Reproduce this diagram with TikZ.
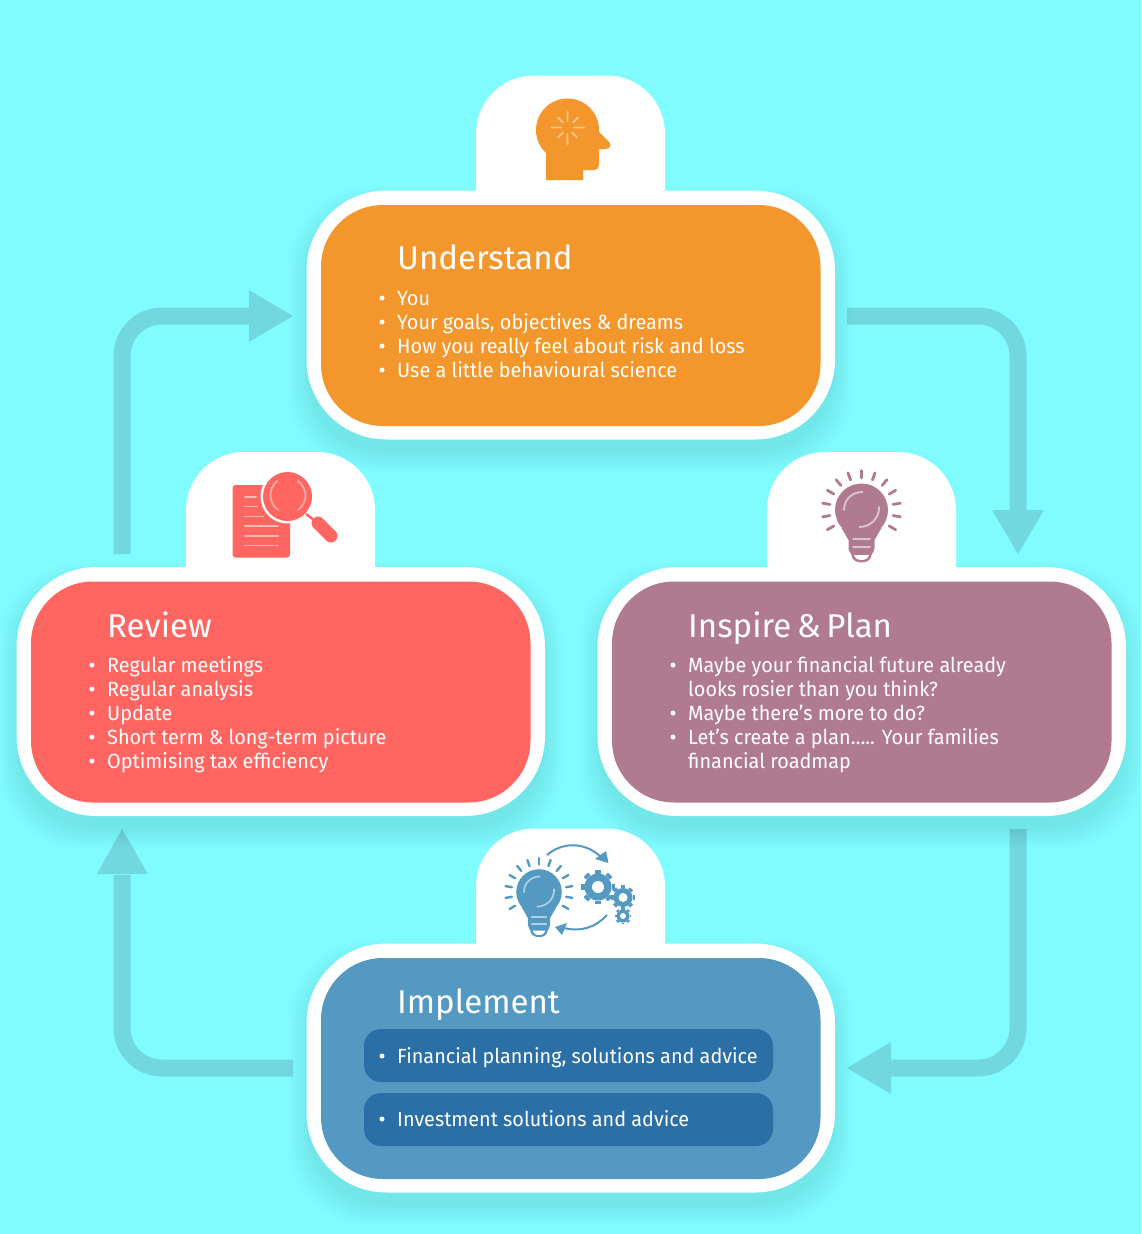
\documentclass[tikz,border=0pt]{standalone}
\usepackage{fontspec}
\setmainfont{Fira Sans}
\newfontfamily\itemfont[FakeStretch=0.967]{Fira Sans}
\newfontfamily\headfont{Fira Sans}
\usetikzlibrary{calc}
\definecolor{bgc}{HTML}{80FCFF}
\definecolor{arrowc}{HTML}{72D8E0}
\definecolor{orangec}{HTML}{F3962C}
\definecolor{redc}{HTML}{FF6561}
\definecolor{mauvec}{HTML}{B07B90}
\definecolor{bluec}{HTML}{5399C2}
\definecolor{darkbluec}{HTML}{2A6FA5}
\tikzset{
  x=1pt,y=-1pt,
  flow/.style={draw=arrowc,line width=17pt,rounded corners=40pt},
  head/.style={fill=arrowc,draw=none},
  inner/.style={rounded corners=62pt},
  heading/.style={anchor=base west,text=white,font=\headfont\fontsize{33}{33}\selectfont,inner sep=0pt},
  item/.style={anchor=base west,text=white,font=\itemfont\fontsize{20.5}{20.5}\selectfont,inner sep=0pt},
  dot/.style={circle,fill=white,draw=none,minimum size=5pt,inner sep=0pt},
}
\newcommand{\card}[4]{%
  \begin{scope}[shift={(#1,#2)}]
    \foreach \k in {18,15,12,9,6,3,0}{
      \fill[black,opacity=.011,rounded corners=80pt] (-\k,-\k+14) rectangle (528.5+\k,249+\k+14);
    }
    \fill[white,rounded corners=58pt] (169.5,-115) rectangle (358.5,60);
    \fill[white,rounded corners=80pt] (0,0) rectangle (528.5,249);
    \fill[#3,inner] (14.5,14.5) rectangle (514,235.5);
  \end{scope}}
\newcommand{\bul}[2]{\node[dot] at (#1,#2) {};}
\newcommand{\bulb}[4]{% centre x, centre y, scale, colour
  \begin{scope}[shift={(#1,#2)},scale=#3]
    \pgfmathsetmacro{\rl}{2.8*#3}
    \pgfmathsetmacro{\gl}{1.9*#3}
    \fill[#4] (0,0) circle (26.5);
    \fill[#4] (-20,18) -- (-13,30) -- (-13,38) .. controls (-13,42) and (-10,43) .. (-10,45)
       .. controls (-10,49) and (-6,52.5) .. (0,52.5) .. controls (6,52.5) and (10,49) .. (10,45)
       .. controls (10,43) and (13,42) .. (13,38) -- (13,30) -- (20,18) -- cycle;
    \fill[white] (-7.5,45) .. controls (-7,48) and (-4,50) .. (0,50) .. controls (4,50) and (7,48) .. (7.5,45) -- cycle;
    \draw[white,opacity=.55,line width=\gl pt,line cap=round] (-8.5,29) -- (8.5,29) (-8.5,37) -- (8.5,37);
    \draw[white,opacity=.55,line width=\gl pt,line cap=round] (-17.5,0) .. controls (-17.5,-10) and (-10,-18) .. (1,-18);
    \draw[white,opacity=.55,line width=\gl pt,line cap=round] (17.5,-3) .. controls (18,8) and (9,17) .. (-2,17);
    \foreach \a in {-120,-100,-80,-60,-40,-20,0,20,40,60,80,100,120}{
      \draw[#4,line width=\rl pt,line cap=round] ({sin(\a)*32},{-cos(\a)*32}) -- ({sin(\a)*39.5},{-cos(\a)*39.5});
    }
  \end{scope}}
\begin{document}
\begin{tikzpicture}
\useasboundingbox (0,0) rectangle (1141,1234);
\fill[bgc] (0,0) rectangle (1141,1234);

\coordinate (a1s) at (847,316); \coordinate (a1c) at (1018,316); \coordinate (a1e) at (1018,512);
\coordinate (a2s) at (1018,829); \coordinate (a2c) at (1018,1068); \coordinate (a2e) at (889,1068);
\coordinate (a3s) at (293,1068); \coordinate (a3c) at (122,1068); \coordinate (a3e) at (122,875);
\coordinate (a4s) at (122,554); \coordinate (a4c) at (122,316); \coordinate (a4e) at (251,316);

\draw[flow] (a1s) -- (a1c) -- (a1e);
\fill[head] (992,510) -- (1044,510) -- (1018,554) -- cycle;
\draw[flow] (a2s) -- (a2c) -- (a2e);
\fill[head] (891,1042) -- (891,1094) -- (847,1068) -- cycle;
\draw[flow] (a3s) -- (a3c) -- (a3e);
\fill[head] (97,874) -- (148,874) -- (122,829) -- cycle;
\draw[flow] (a4s) -- (a4c) -- (a4e);
\fill[head] (249,290) -- (249,342) -- (293,316) -- cycle;

\card{306.5}{190.5}{orangec}{u}
\card{16.5}{567}{redc}{r}
\card{597.5}{567}{mauvec}{p}
\card{306.5}{943.5}{bluec}{i}

\fill[darkbluec,rounded corners=17pt] (364,1029) rectangle (773,1082);
\fill[darkbluec,rounded corners=17pt] (364,1093) rectangle (773,1146);

% Understand
\node[heading] (h1) at (397,269) {Understand};
\node[item] (u1) at (397,305) {You};
\node[item] (u2) at (397,329) {Your goals, objectives \& dreams};
\node[item] (u3) at (397,353) {How you really feel about risk and loss};
\node[item] (u4) at (397,377) {Use a little behavioural science};
\bul{382}{298}\bul{382}{322}\bul{382}{346}\bul{382}{370}

% Review
\node[heading] (h2) at (107,637) {Review};
\node[item] (r1) at (107,672) {Regular meetings};
\node[item] (r2) at (107,696) {Regular analysis};
\node[item] (r3) at (107,720) {Update};
\node[item] (r4) at (107,744) {Short term \& long-term picture};
\node[item] (r5) at (107,768) {Optimising tax efficiency};
\bul{92}{665}\bul{92}{689}\bul{92}{713}\bul{92}{737}\bul{92}{761}

% Inspire
\node[heading] (h3) at (688,637) {Inspire\hspace{5.5pt}\&\hspace{5.5pt}Plan};
\node[item] (p1) at (688,672) {Maybe your financial future already};
\node[item] (p2) at (688,696) {looks rosier than you think?};
\node[item] (p3) at (688,720) {Maybe there’s more to do?};
\node[item] (p4) at (688,744) {Let’s create a plan….. Your families};
\node[item] (p5) at (688,768) {financial roadmap};
\bul{673}{665}\bul{673}{713}\bul{673}{737}

% Implement
\node[heading] (h4) at (397,1013) {Implement};
\node[item] (i1) at (397,1063) {Financial planning, solutions and advice};
\node[item] (i2) at (397,1126) {Investment solutions and advice};
\bul{382}{1056}\bul{382}{1119}

% Head icon
\begin{scope}[shift={(480,70)}]
  \fill[orangec] (87.5,60) circle (31.5);
  \fill[orangec] (66,75) -- (66,110) -- (103,110) -- (103,100) -- (113,100)
     .. controls (117,100) and (119,98) .. (119,94) -- (119,79) -- (125,79)
     .. controls (130,79) and (132,75) .. (129,72) -- (117,60) -- (100,60) -- cycle;
  \draw[white,opacity=.45,line width=1.8pt,line cap=round]
   (87.5,42) -- (87.5,51) (87.5,64) -- (87.5,74) (71.5,57.5) -- (81,57.5) (94,57.5) -- (104,57.5)
   (78,47.5) -- (83,52.5) (92,62.5) -- (97,67.5) (98,47.5) -- (93,52.5) (83,62.5) -- (78,67.5);
\end{scope}

% Review icon
\begin{scope}[shift={(190,450)}]
  \fill[redc,rounded corners=3pt] (42.5,35) rectangle (100,107.5);
  \draw[white,opacity=.55,line width=1.6pt,line cap=round]
    (55,47) -- (66,47) (55,56.5) -- (67,56.5) (55,66.5) -- (73,66.5)
    (55,76) -- (88,76) (55,86) -- (88,86) (55,95.5) -- (88,95.5);
  \fill[white] (97.5,46.5) circle (27);
  \fill[redc] (97.5,46.5) circle (24.5);
  \draw[white,opacity=.45,line width=1.8pt,line cap=round]
    (87,31) .. controls (78,39) and (78,52) .. (88,60)
    (108,31) .. controls (118,39) and (118,52) .. (108,60);
  \draw[redc,line width=2.5pt] (116,64) -- (124,70);
  \draw[redc,line width=13pt,line cap=round] (128,73) -- (141,86);
\end{scope}

% Plan icon
\bulb{861.5}{510}{1}{mauvec}

% Implement icon
\bulb{539}{892}{0.86}{bluec}
\begin{scope}[shift={(480,830)}]
  \draw[bluec,line width=2pt] (67,25) .. controls (85,10) and (108,13) .. (123,29);
  \fill[bluec] (128.5,33) -- (115,29) -- (126,21) -- cycle;
  \draw[bluec,line width=2pt] (127,85) .. controls (115,98) and (100,102) .. (84,98);
  \fill[bluec] (75,97) -- (87,93) -- (82,105) -- cycle;
  \foreach \cx/\cy/\r/\h in {118/57/13.5/6,143/67.5/9.5/4.5,143/86/6.5/3}{
    \fill[bluec] (\cx,\cy) circle (\r);
    \foreach \t in {1,...,8}{
      \draw[bluec,line width=\r*0.45pt] ({\cx+cos(\t*45)*\r},{\cy+sin(\t*45)*\r}) -- ({\cx+cos(\t*45)*(\r*1.28)},{\cy+sin(\t*45)*(\r*1.28)});
    }
    \fill[white] (\cx,\cy) circle (\h);
  }
\end{scope}
\end{tikzpicture}
\end{document}
